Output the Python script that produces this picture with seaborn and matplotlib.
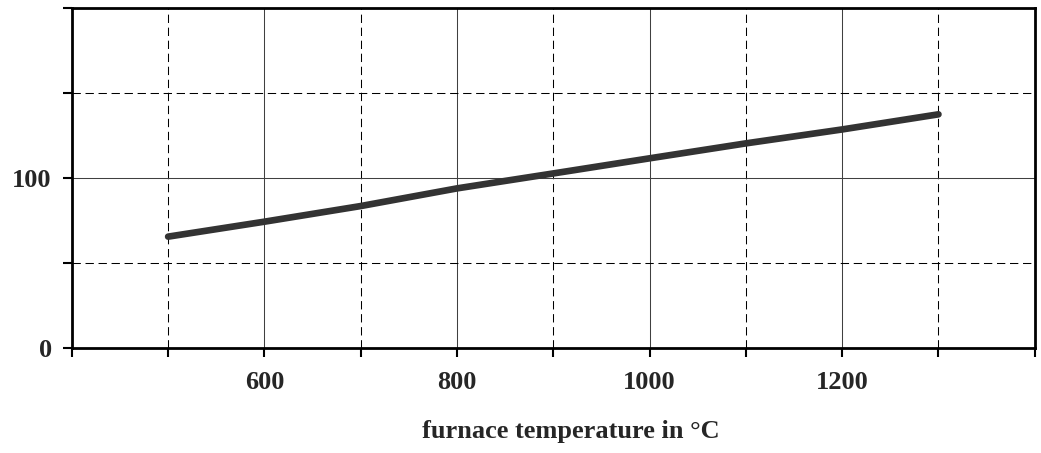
import seaborn as sns
import pandas as pd
import matplotlib.pyplot as plt

# valores
temperatura = [500, 600, 700, 800, 900, 1000, 1100, 1200, 1300]
valores = [65.5, 74.3, 83.5, 93.9, 102.7, 111.6, 120.4, 128.6, 137.5]

x_ticks = [400, 600, 800, 1000, 1200, 1400]
x_labels = ['', '600', '800', '1000', '1200', '']
x_minor = [500, 700, 900, 1100, 1300]
y_ticks = [0, 100, 200]
y_labels = ['0', '100', '']
y_minor = [50, 150]

df = pd.DataFrame({'temp': temperatura, 'valor': valores})

sns.set_style('white')
plt.rcParams['font.family'] = ['Liberation Serif', 'DejaVu Serif']
plt.rcParams['font.weight'] = 'bold'

fig = plt.figure(figsize=(10.41, 4.53), dpi=100)
ax = fig.add_axes([0.069, 0.232, 0.925, 0.75])

sns.lineplot(data=df, x='temp', y='valor', ax=ax, color='#333333',
             linewidth=4.8, solid_capstyle='round', zorder=5)

ax.set_xlim(400, 1400)
ax.set_ylim(0, 200)
ax.set_xticks(x_ticks)
ax.set_xticklabels(x_labels)
ax.set_xticks(x_minor, minor=True)
ax.set_yticks(y_ticks)
ax.set_yticklabels(y_labels)
ax.set_yticks(y_minor, minor=True)

# grade: principal sólida, secundária tracejada
ax.grid(which='major', color='#404040', linewidth=0.75, linestyle='-')
ax.grid(which='minor', color='black', linewidth=0.75, linestyle=(0, (8, 4.5)))

ax.tick_params(which='both', direction='out', length=6.5, width=1.5,
               color='black', labelsize=19, pad=10)
ax.tick_params(axis='y', which='both', pad=8)
ax.tick_params(bottom=True, left=True, which='both')

for s in ax.spines.values():
    s.set_color('black')
    s.set_linewidth(2)

ax.set_xlabel('furnace temperature in °C', fontsize=19, fontweight='bold')
ax.xaxis.set_label_coords(0.518, -0.212)
ax.xaxis.label.set_verticalalignment('top')
ax.set_ylabel('')

fig.savefig('out.png', dpi=100)
